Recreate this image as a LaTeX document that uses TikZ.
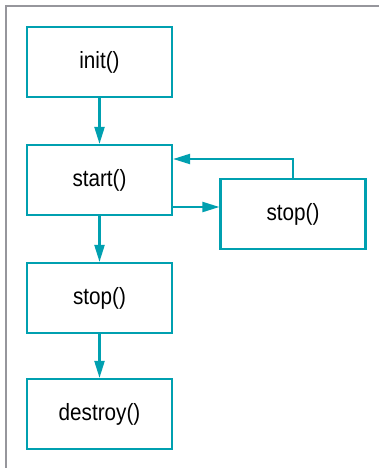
\documentclass[tikz,border=0pt]{standalone}
\usepackage{fontspec}
\setmainfont{Liberation Sans}[FakeStretch=0.88]
\usetikzlibrary{arrows.meta}
\definecolor{teal1}{RGB}{0,160,176}
\definecolor{frame1}{RGB}{150,150,156}
\begin{document}
\begin{tikzpicture}[x=1pt,y=1pt,
  box/.style={draw=teal1,line width=2.2pt,minimum width=145pt,minimum height=70pt,inner sep=0pt,font=\fontsize{23.5}{27}\selectfont},
  conn/.style={draw=teal1,line width=2.2pt,-{Triangle[length=17pt,width=10pt]}}]
\useasboundingbox (0,0) rectangle (379,-468);
\fill[white] (0,0) rectangle (379,-468);
\draw[frame1,line width=2.2pt] (379,-6) -- (6,-6) -- (6,-468);
\node[box] (init) at (99.5,-62) {init()};
\node[box] (start) at (99.5,-180) {start()};
\node[box] (stop) at (99.5,-298) {stop()};
\node[box] (destroy) at (99.5,-414) {destroy()};
\node[box] (stopr) at (293,-214) {stop()};
\draw[conn] (init) -- (start);
\draw[conn] (start) -- (stop);
\draw[conn] (stop) -- (destroy);
\coordinate (a) at (start.east |- 0,-207);
\draw[conn] (a) -- (stopr.west |- a);
\coordinate (b) at (stopr.north |- 0,-159);
\draw[conn] (stopr.north) -- (b) -- (start.east |- b);
\end{tikzpicture}
\end{document}
